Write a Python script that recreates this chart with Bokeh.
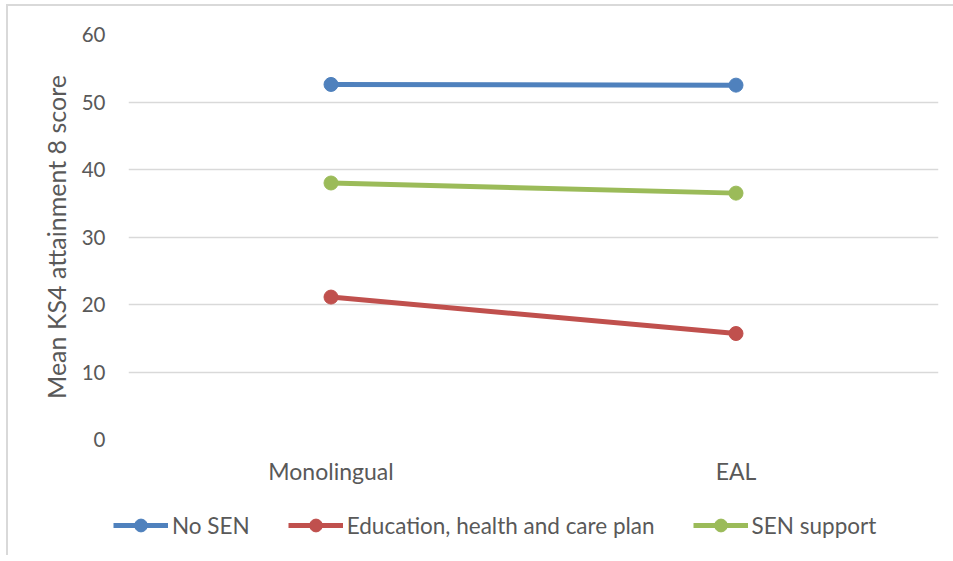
from bokeh.plotting import figure
from bokeh.layouts import column
from bokeh.models import FactorRange, Range1d, Legend, LegendItem, FixedTicker
from bokeh.embed import file_html
from bokeh.resources import INLINE

categories = ["Monolingual", "EAL"]
no_sen = [52.6, 52.5]
ehcp = [21.1, 15.7]
sen_support = [38.0, 36.5]
series_names = ["No SEN", "Education, health and care plan", "SEN support"]
series_colors = ["#4F81BD", "#C0504D", "#9BBB59"]
y_ticks = [0, 10, 20, 30, 40, 50, 60]
y_title = "Mean KS4 attainment 8 score"

FONT = "Lato"
TEXT = "#595959"
GRID = "#D9D9D9"
LINE_W = 5
MARK = 14

# ---- main chart -------------------------------------------------------
p = figure(
    x_range=FactorRange(*categories, range_padding=0),
    y_range=Range1d(0, 60),
    frame_width=810, frame_height=405,
    min_border_left=120, min_border_right=15,
    min_border_top=28, min_border_bottom=50,
    output_backend="svg", toolbar_location=None,
)
p.outline_line_color = None
p.background_fill_color = "white"
p.border_fill_color = "white"

# value axis
p.yaxis.ticker = FixedTicker(ticks=y_ticks)
p.yaxis.axis_line_color = None
p.yaxis.major_tick_line_color = None
p.yaxis.minor_tick_line_color = None
p.yaxis.major_tick_in = 0
p.yaxis.major_tick_out = 0
p.yaxis.major_label_standoff = 23
p.yaxis.major_label_text_font = FONT
p.yaxis.major_label_text_font_size = "20.5px"
p.yaxis.major_label_text_color = TEXT
p.yaxis.axis_label = y_title
p.yaxis.axis_label_text_font = FONT
p.yaxis.axis_label_text_font_size = "25px"
p.yaxis.axis_label_text_font_style = "normal"
p.yaxis.axis_label_text_color = TEXT
p.yaxis.axis_label_standoff = 8

# category axis
p.xaxis.axis_line_color = None
p.xaxis.major_tick_line_color = None
p.xaxis.minor_tick_line_color = None
p.xaxis.major_tick_in = 0
p.xaxis.major_tick_out = 0
p.xaxis.major_label_standoff = 17
p.xaxis.major_label_text_font = FONT
p.xaxis.major_label_text_font_size = "23px"
p.xaxis.major_label_text_color = TEXT

p.xgrid.grid_line_color = None
p.ygrid.grid_line_color = GRID
p.ygrid.grid_line_width = 1.5

for vals, col in zip([no_sen, ehcp, sen_support], series_colors):
    p.line(categories, vals, line_color=col, line_width=LINE_W)
    p.scatter(categories, vals, size=MARK, marker="circle",
              fill_color=col, line_color=col)

# ---- legend strip under the chart -------------------------------------
lg = figure(
    x_range=Range1d(0, 1), y_range=Range1d(0, 1),
    frame_width=945, frame_height=66,
    min_border=0, x_axis_type=None, y_axis_type=None,
    output_backend="svg", toolbar_location=None,
)
lg.outline_line_color = None
lg.grid.grid_line_color = None
lg.background_fill_color = "white"
lg.border_fill_color = "white"

nan = float("nan")
items = []
for name, col in zip(series_names, series_colors):
    # swatch-only renderers: a single missing point, so only the legend shows them
    ln = lg.line([nan], [nan], line_color=col, line_width=LINE_W)
    sc = lg.scatter([nan], [nan], size=MARK, marker="circle",
                    fill_color=col, line_color=col)
    items.append(LegendItem(label=name, renderers=[ln, sc]))

legend = Legend(items=items, orientation="horizontal", location=(105, 14))
legend.background_fill_alpha = 0
legend.border_line_color = None
legend.margin = 0
legend.padding = 0
legend.glyph_width = 55
legend.glyph_height = 32
legend.label_height = 32
legend.label_standoff = 4
legend.spacing = 38
legend.label_text_font = FONT
legend.label_text_font_size = "22.5px"
legend.label_text_color = TEXT
lg.add_layout(legend, "center")

page = column(p, lg, spacing=0)
page.styles = {
    "margin-left": "6px", "margin-top": "4px",
    "border-left": "2px solid #D9D9D9", "border-top": "2px solid #D9D9D9",
}

open("out.html", "w").write(file_html(page, INLINE))
